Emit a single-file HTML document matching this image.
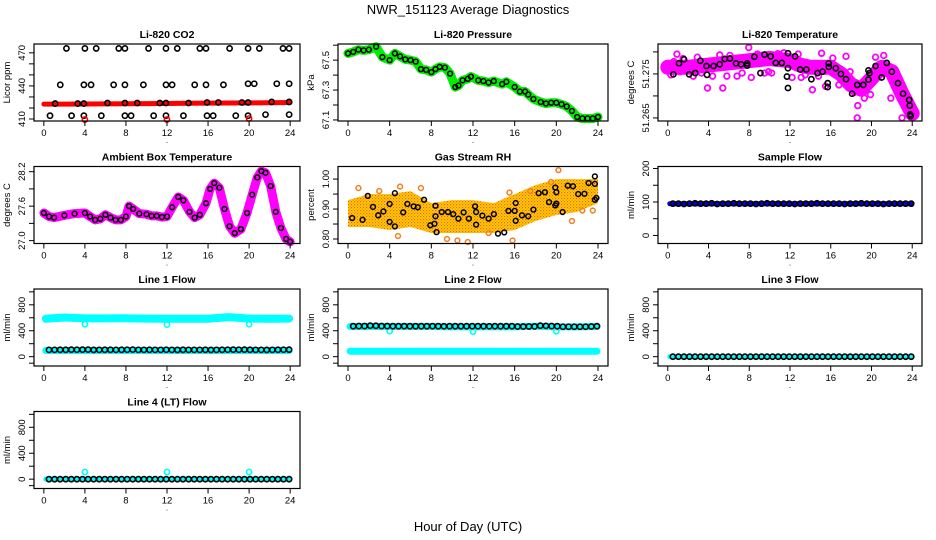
<!DOCTYPE html>
<html><head><meta charset="utf-8"><style>
html,body{margin:0;padding:0;background:#fff}
svg{display:block;font-family:"Liberation Sans",sans-serif}
</style></head><body>
<svg id="chart" width="936" height="540" viewBox="0 0 936 540" xmlns="http://www.w3.org/2000/svg">
<defs>
<pattern id="rhpat" width="3" height="3" patternUnits="userSpaceOnUse">
<rect width="3" height="3" fill="#ffd000"/><rect width="1.2" height="1.2" fill="#f06010"/><rect x="1.5" y="1.5" width="1.2" height="1.2" fill="#f08020"/>
</pattern>
</defs>
<text x="468" y="14" text-anchor="middle" font-size="13">NWR_151123  Average Diagnostics</text>
<text x="468" y="531" text-anchor="middle" font-size="13">Hour of Day (UTC)</text>
</svg>
<script>
// ---------- data ----------
const xTicks = [0,4,8,12,16,20,24];
const co2BandT = [0,2,4,6,8,10,12,14,16,18,20,22,24];
const co2BandV = [423.5,423.5,423.6,423.7,423.8,424,424.1,424.2,424.4,424.5,424.6,424.8,425];
const co2HighT = [2.2,4.0,5.1,7.3,7.9,10.2,11.9,13.0,15.2,15.8,18.1,19.9,21.0,23.3,23.9];
const co2HighV = [474,474,474,474,474,474,474,474,474,474,474,474,474,474,474];
const co2MidT = [1.6,3.9,4.6,6.8,7.9,9.7,11.9,12.5,14.7,15.8,17.5,19.9,20.5,22.7,23.9];
const co2MidV = [441,441,441,441,441,441,441,441,441,441,441,442,442,442,442];
const co2RefT = [1.1,3.3,3.9,6.2,7.9,9.1,11.3,11.9,14.1,15.9,17.0,19.3,19.9,22.2,23.9];
const co2RefV = [424,424,424,424.5,424.5,424.5,424.5,424.5,424.5,425,425,425,425,425.5,425.5];
const co2LowT = [0.6,2.7,3.9,5.6,7.9,8.5,10.7,11.9,13.6,15.9,16.5,18.7,19.9,21.6,23.9];
const co2LowV = [413,413,413,413,413,413,413,413,413,413,413,413,413,414,414];
const co2RedT = [4,12,20];
const co2RedV = [409.5,409.5,410.5];

const presT = [0,0.5,1,1.5,2,2.7,3.3,4,4.5,5,5.5,6,6.5,7,7.5,8,8.4,8.8,9.3,9.8,10.3,10.6,11,11.5,11.8,12.5,13,13.5,14,14.8,15.2,16,16.5,17,17.3,17.8,18.5,19,19.5,20,20.5,21,21.5,22,22.5,23,23.5,24];
const presV = [67.545,67.555,67.57,67.565,67.57,67.59,67.52,67.5,67.545,67.525,67.505,67.5,67.49,67.44,67.435,67.42,67.44,67.455,67.45,67.41,67.32,67.33,67.365,67.375,67.39,67.365,67.36,67.35,67.36,67.34,67.355,67.32,67.29,67.29,67.27,67.24,67.22,67.21,67.215,67.215,67.205,67.19,67.16,67.12,67.11,67.11,67.11,67.12];

const tempBandT = [0,2,4,6,8,10,12,13,14,16,17,18,19,20,21,22,23,24];
const tempBandV = [51.2765,51.2765,51.277,51.2775,51.278,51.2785,51.278,51.277,51.2765,51.2765,51.275,51.2725,51.2715,51.274,51.2765,51.2755,51.2705,51.266];
const tempPinkT = [18.65,18.6,23,7.95,0.9,5.1,15.1,17.5,20.4,3.9,5.4,14.2,19.3,21.9,2.5,9.5,12.2,16.8,1.5,6.8,10.8,13.5,22.5,0.3,1.2,2.9,4.4,6.1,7.3,8.8,10.2,11.4,12.8,14.8,16.2,17.9,18.3,19.9,21.2,22.8,23.4,0.6,3.3,5.8,8.2,9.9,13.1,15.5];
const tempPinkV = [51.2678,51.265,51.265,51.281,51.2795,51.2793,51.2797,51.279,51.2788,51.2718,51.2718,51.2714,51.2695,51.2695,51.2745,51.2752,51.2742,51.2725,51.2785,51.2745,51.2796,51.2748,51.2745,51.2748,51.2755,51.2788,51.2745,51.2792,51.2752,51.2795,51.2752,51.2798,51.2795,51.2745,51.2786,51.2755,51.2708,51.2703,51.2792,51.2722,51.2688,51.2778,51.2752,51.2745,51.2742,51.2755,51.2742,51.2722];
const tempBlackT = [0.55,1.1,1.6,2.1,2.7,3.2,3.8,3.85,4.5,5.1,5.6,6.1,6.7,7.2,7.8,7.8,8.5,9.1,9.5,10.1,10.6,11.2,11.7,11.8,11.8,11.8,12.5,13,13.6,14.1,14.7,15.2,15.8,15.8,15.7,15.7,16.5,17,17.5,18.1,18.6,19.2,19.7,19.7,19.8,20.4,21,21.5,22,22.6,23.1,23.7,23.76,23.8,23.85];
const tempBlackV = [51.2749,51.2774,51.2783,51.2749,51.2752,51.278,51.2768,51.2748,51.2768,51.2772,51.2784,51.2785,51.2774,51.2772,51.2774,51.2769,51.2789,51.2752,51.2794,51.279,51.2775,51.2775,51.2744,51.2797,51.2718,51.2763,51.279,51.276,51.276,51.2738,51.2752,51.2755,51.2774,51.2766,51.2729,51.272,51.2763,51.275,51.2738,51.2705,51.2725,51.2725,51.2758,51.2737,51.2752,51.2768,51.2742,51.2775,51.2755,51.2729,51.2705,51.2691,51.2678,51.2658,51.2654];

const ambT = [0,0.5,1,2,3,4,4.5,5,5.5,6,6.5,7,7.5,8,8.3,8.7,9.3,10,10.5,11,11.5,12,12.5,13.1,13.6,14.2,14.7,15.2,15.8,16.2,16.6,17.1,17.6,18.1,18.6,19.2,19.8,20.3,20.8,21.2,21.6,22.1,22.6,23.1,23.6,24];
const ambV = [27.48,27.42,27.4,27.44,27.47,27.48,27.42,27.36,27.38,27.45,27.4,27.36,27.36,27.42,27.6,27.55,27.47,27.46,27.43,27.43,27.41,27.42,27.58,27.76,27.7,27.5,27.4,27.45,27.65,27.9,28.0,27.92,27.55,27.25,27.13,27.2,27.48,27.8,28.1,28.21,28.18,27.95,27.5,27.22,27.03,26.98];

const rhBandT = [0,2,4,6,8,10,12,14,16,18,20,22,24];
const rhUpper = [0.93,0.95,0.95,0.96,0.92,0.93,0.93,0.92,0.95,0.98,1.0,1.0,1.0];
const rhLower = [0.84,0.84,0.83,0.84,0.82,0.82,0.82,0.82,0.83,0.86,0.88,0.89,0.92];
const rhBlackT = [0.4,1.4,1.9,2.4,2.9,3.4,4.0,4.5,4.5,4.0,5.3,5.7,6.3,6.7,7.3,7.9,8.3,8.4,8.4,8.5,9.0,9.6,10.1,10.6,11.1,11.6,12.2,12.3,12.3,12.9,13.5,14.0,14.4,15.0,15.4,16.0,16.1,16.1,16.7,17.3,17.8,18.3,18.9,19.3,19.9,19.9,20.0,20.0,20.6,21.1,21.6,22.1,22.7,23.1,23.7,23.7,23.7,23.85];
const rhBlackV = [0.87,0.864,0.944,0.907,0.879,0.892,0.857,0.842,0.953,0.917,0.889,0.917,0.909,0.906,0.931,0.846,0.851,0.911,0.876,0.823,0.89,0.89,0.883,0.868,0.889,0.868,0.909,0.89,0.848,0.878,0.868,0.883,0.818,0.822,0.894,0.894,0.92,0.861,0.879,0.876,0.898,0.953,0.956,0.923,0.912,0.972,0.956,0.918,0.89,0.978,0.976,0.95,0.951,0.987,0.984,1.009,0.931,0.937];
const rhOrangeT = [1.0,3.0,5.0,7.0,9.5,11.5,13.5,15.5,17.5,19.5,20.2,21.5,22.5,23.5,4.8,10.5,15.8];
const rhOrangeV = [0.97,0.96,0.975,0.97,0.80,0.79,0.82,0.955,0.96,0.99,1.03,0.86,0.895,0.895,0.81,0.795,0.795];

const sampleV = [95,95,94,95,96,95,95,96,94,95,95,96,95,95,95,94,95,96,95,95,95,95,94,95,95,95,96,95,95,95,95,94,95,95,96,95,95,95,94,95,95,95,95,95];
const line1BlackV = [105,105,106,106,108,107,108,109,104,105,106,106,105,106,107,109,105,105,106,105,105,107,105,104,106,105,105,105,106,104,105,106,107,108,107,108,106,105,105,104,105,106,107,108];
const line2BlackV = [470,472,472,478,476,472,472,470,470,471,470,470,470,470,471,470,469,470,470,470,470,470,470,470,469,470,470,470,470,465,465,466,467,478,475,472,470,462,462,462,462,462,465,470];
const line3BlackV = [0,0,0,0,0,0,0,0,0,0,0,0,0,0,0,0,0,0,0,0,0,0,0,0,0,0,0,0,0,0,0,0,0,0,0,0,0,0,0,0,0,0,0,0];
const line4BlackV = [0,0,0,0,0,0,0,0,0,0,0,0,0,0,0,0,0,0,0,0,0,0,0,0,0,0,0,0,0,0,0,0,0,0,0,0,0,0,0,0,0,0,0,0];
const flowBandT = [0.2,2,4,6,8,10,12,14,16,18,20,22,23.9];
const sampleBandV = [95,95,95,95,95,95,95,95,95,95,95,95,95];
const line1HighV = [585,605,590,590,592,588,586,586,586,610,588,586,588];
const line1LowV = [95,95,95,95,95,95,95,95,95,95,95,95,95];
const line2HighV = [465,465,465,465,465,460,460,460,460,470,460,460,465];
const line2LowV = [85,85,85,85,85,85,85,85,85,85,85,85,85];
const line3BandV = [0,0,0,0,0,0,0,0,0,0,0,0,0];
const line4BandV = [0,0,0,0,0,0,0,0,0,0,0,0,0];
const outlierT = [4,12,20];
const line1OutV = [500,495,500];
const line2OutV = [395,385,390];
const line4OutV = [110,110,110];

// ---------- layout ----------
const svg = document.getElementById('chart');
const NS = 'http://www.w3.org/2000/svg';
const COLS = [{l:34,r:300},{l:338,r:608},{l:658,r:922}];
const ROWS = [44,166.5,289,411.5];
const PH = 77;
const XD = [-0.96,24.96];

function mk(tag, attrs, parent){
  const e = document.createElementNS(NS, tag);
  for (const k in attrs) e.setAttribute(k, attrs[k]);
  parent.appendChild(e);
  return e;
}

function panel(ci, ri, name, title, ylab, ylim, yTicks, yLabels){
  const c = COLS[ci], top = ROWS[ri], bot = top + PH;
  const g = mk('g', {}, svg);
  
  
  const x = t => c.l + (t - XD[0]) / (XD[1] - XD[0]) * (c.r - c.l);
  const y = v => bot - (v - ylim[0]) / (ylim[1] - ylim[0]) * PH;
  const plot = mk('g', {}, g);
  
  
  const box = mk('rect', {x:c.l, y:top, width:c.r-c.l, height:PH, fill:'none', stroke:'#000', 'stroke-width':1.2}, g);
  
  
  const tt = mk('text', {x:(c.l+c.r)/2, y:top-6, 'text-anchor':'middle', 'font-size':10.5, 'font-weight':'bold'}, g);
  tt.textContent = title;
  
  
  const xa = mk('g', {}, g);
  
  
  mk('line', {x1:x(xTicks[0]), x2:x(xTicks[xTicks.length-1]), y1:bot, y2:bot, stroke:'#000'}, xa);
  xTicks.forEach(t => {
    mk('line', {x1:x(t), x2:x(t), y1:bot, y2:bot+5, stroke:'#000'}, xa);
    const tx = mk('text', {x:x(t), y:bot+15, 'text-anchor':'middle', 'font-size':9.5}, xa);
    tx.textContent = String(t);
    
    
  });
  const dot = mk('text', {x:(c.l+c.r)/2, y:bot+22, 'text-anchor':'middle', 'font-size':8}, xa);
  dot.textContent = '.';
  const ya = mk('g', {}, g);
  
  
  mk('line', {x1:c.l, x2:c.l, y1:y(yTicks[0]), y2:y(yTicks[yTicks.length-1]), stroke:'#000'}, ya);
  yTicks.forEach((v, i) => {
    mk('line', {x1:c.l-5, x2:c.l, y1:y(v), y2:y(v), stroke:'#000'}, ya);
    if (yLabels[i] !== '') {
      const tx = mk('text', {x:c.l-9, y:y(v), 'text-anchor':'middle', 'font-size':9.5, transform:`rotate(-90 ${c.l-9} ${y(v)})`}, ya);
      tx.textContent = yLabels[i];
      
      
    }
  });
  const yl = mk('text', {x:c.l-24, y:(top+bot)/2, 'text-anchor':'middle', 'font-size':9.5, transform:`rotate(-90 ${c.l-24} ${(top+bot)/2})`}, ya);
  yl.textContent = ylab;
  
  
  return {g:plot, x, y};
}

function band(p, ts, vs, color, w, name){
  const d = ts.map((t,i) => (i?'L':'M') + p.x(t).toFixed(1) + ' ' + p.y(vs[i]).toFixed(1)).join(' ');
  const e = mk('path', {d, fill:'none', stroke:color, 'stroke-width':w, 'stroke-linecap':'round', 'stroke-linejoin':'round'}, p.g);
  
  
}
function pts(p, ts, vs, color, name, r, sw){
  ts.forEach((t,i) => {
    const e = mk('circle', {cx:p.x(t), cy:p.y(vs[i]), r:r||2.6, fill:'none', stroke:color, 'stroke-width':sw||1.6}, p.g);
    
    
  });
}
function slotPts(p, vs, color, name){
  vs.forEach((v,i) => {
    const t = 0.5 + i * (23.4 / (vs.length - 1));
    const e = mk('circle', {cx:p.x(t), cy:p.y(v), r:2.6, fill:'none', stroke:color, 'stroke-width':1.6}, p.g);
    
    
  });
}

// ---------- panels ----------
let p;
p = panel(0,0,'co2','Li-820 CO2','Licor ppm',[408.2,478],[410,420,430,440,450,460,470],['410','','','440','','','470']);
band(p, co2BandT, co2BandV, '#ff0000', 5, 'co2-red-band');
pts(p, co2HighT, co2HighV, '#000', 'co2-high-point');
pts(p, co2MidT, co2MidV, '#000', 'co2-mid-point');
pts(p, co2RefT, co2RefV, '#000', 'co2-ref-point');
pts(p, co2LowT, co2LowV, '#000', 'co2-low-point');
pts(p, co2RedT, co2RedV, '#ff0000', 'co2-red-point');

p = panel(1,0,'pressure','Li-820 Pressure','kPa',[67.093,67.608],[67.1,67.2,67.3,67.4,67.5,67.6],['67.1','','67.3','','67.5','']);
band(p, presT, presV, '#00ee00', 9, 'pressure-green-band');
pts(p, presT, presV, '#000', 'pressure-point', 2.4, 1.5);

p = panel(2,0,'temperature','Li-820 Temperature','degrees C',[51.2643,51.2818],[51.265,51.27,51.275,51.28],['51.265','','51.275','']);
band(p, tempBandT, tempBandV, '#ff00ff', 15, 'temperature-magenta-band');
pts(p, tempPinkT, tempPinkV, '#ff00ff', 'temperature-magenta-point', 2.8, 1.8);
pts(p, tempBlackT, tempBlackV, '#000', 'temperature-point', 2.6, 1.6);

p = panel(0,1,'ambient','Ambient Box Temperature','degrees C',[26.95,28.29],[27.0,27.3,27.6,27.9,28.2],['27.0','','27.6','','28.2']);
band(p, ambT, ambV, '#ff00ff', 9, 'ambient-magenta-band');
pts(p, ambT, ambV, '#000', 'ambient-point', 2.4, 1.5);

p = panel(1,1,'rh','Gas Stream RH','percent',[0.785,1.042],[0.80,0.85,0.90,0.95,1.00],['0.80','','0.90','','1.00']);
(function(){
  const up = rhBandT.map((t,i)=>p.x(t).toFixed(1)+','+p.y(rhUpper[i]).toFixed(1));
  const lo = rhBandT.map((t,i)=>p.x(t).toFixed(1)+','+p.y(rhLower[i]).toFixed(1)).reverse();
  const e = mk('polygon', {points: up.concat(lo).join(' '), fill:'url(#rhpat)'}, p.g);
  
  
})();
pts(p, rhOrangeT, rhOrangeV, '#f08020', 'rh-orange-point', 2.4, 1.5);
pts(p, rhBlackT, rhBlackV, '#000', 'rh-point', 2.4, 1.5);

p = panel(2,1,'sample-flow','Sample Flow','ml/min',[-24,206],[0,50,100,150,200],['0','','100','','200']);
band(p, flowBandT, sampleBandV, '#0000dd', 5, 'sample-flow-blue-band');
slotPts(p, sampleV, '#000', 'sample-flow-point');

const fT = [-100,0,200,400,600,800,1000], fL = ['','0','','400','','800',''];
const fY = [-144,1044];
p = panel(0,2,'line1-flow','Line 1 Flow','ml/min',fY,fT,fL);
band(p, flowBandT, line1HighV, '#00ffff', 8, 'line1-cyan-high-band');
band(p, flowBandT, line1LowV, '#00ffff', 7, 'line1-cyan-low-band');
pts(p, outlierT, line1OutV, '#00ffff', 'line1-cyan-outlier');
slotPts(p, line1BlackV, '#000', 'line1-point');

p = panel(1,2,'line2-flow','Line 2 Flow','ml/min',fY,fT,fL);
band(p, flowBandT, line2HighV, '#00ffff', 7, 'line2-cyan-high-band');
band(p, flowBandT, line2LowV, '#00ffff', 7, 'line2-cyan-low-band');
pts(p, outlierT, line2OutV, '#00ffff', 'line2-cyan-outlier');
slotPts(p, line2BlackV, '#000', 'line2-point');

p = panel(2,2,'line3-flow','Line 3 Flow','ml/min',fY,fT,fL);
band(p, flowBandT, line3BandV, '#00ffff', 5, 'line3-cyan-band');
slotPts(p, line3BlackV, '#000', 'line3-point');

p = panel(0,3,'line4-flow','Line 4 (LT) Flow','ml/min',fY,fT,fL);
band(p, flowBandT, line4BandV, '#00ffff', 5, 'line4-cyan-band');
pts(p, outlierT, line4OutV, '#00ffff', 'line4-cyan-outlier');
slotPts(p, line4BlackV, '#000', 'line4-point');
</script>
</body></html>
